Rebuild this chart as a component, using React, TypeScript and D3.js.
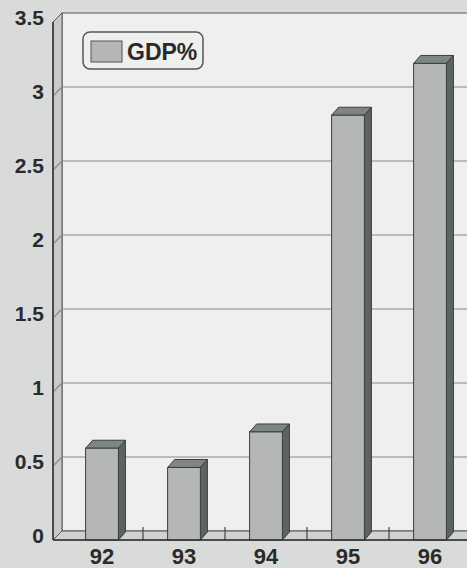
import * as d3 from "d3"

const years = ["92", "93", "94", "95", "96"]
const gdpShare = [0.62, 0.49, 0.73, 2.87, 3.22]
const yTicks = [0, 0.5, 1, 1.5, 2, 2.5, 3, 3.5]
const seriesName = "GDP%"

const W = 467
const H = 568

export default function App() {
  // back plane geometry; front plane is shifted by (-depth, +depth)
  const depth = 9
  const backLeft = 62
  const backRight = 480
  const y = d3.scaleLinear().domain([0, 3.5]).range([531, 13])
  const x = d3.scaleBand<string>().domain(years).range([61, 471])
  const bw = x.bandwidth()
  const barW = bw * 0.4
  const bdx = 7
  const bdy = 8
  const font = "'Liberation Sans', Arial, sans-serif"

  return (
    <svg
      width={W}
      height={H}
      style={{ position: "absolute", left: 0, top: 0 }}
    >
      <rect width={W} height={H} fill="#d9dbda" />

      {/* back wall */}
      <rect
        x={backLeft}
        y={y(3.5)}
        width={backRight - backLeft}
        height={y(0) - y(3.5)}
        fill="#efefed"
        stroke="#555"
        strokeWidth={1}
      />
      {/* side wall */}
      <path
        d={`M${backLeft},${y(3.5)} L${backLeft - depth},${y(3.5) + depth} L${backLeft - depth},${y(0) + depth} L${backLeft},${y(0)} Z`}
        fill="#c9cbca"
        stroke="#555"
        strokeWidth={1}
      />
      {/* floor */}
      <path
        d={`M${backLeft},${y(0)} L${backRight},${y(0)} L${backRight - depth},${y(0) + depth} L${backLeft - depth},${y(0) + depth} Z`}
        fill="#d0d2d1"
        stroke="#555"
        strokeWidth={1}
      />

      {/* gridlines */}
      {yTicks.slice(1, -1).map((t) => (
        <g key={t}>
          <line x1={backLeft} x2={backRight} y1={y(t)} y2={y(t)} stroke="#8a8a8a" strokeWidth={1.2} />
          <line
            x1={backLeft - depth}
            x2={backLeft}
            y1={y(t) + depth}
            y2={y(t)}
            stroke="#8a8a8a"
            strokeWidth={1.2}
          />
        </g>
      ))}

      {/* category ticks on floor */}
      {years.slice(1).map((c) => (
        <line
          key={c}
          x1={x(c)!}
          x2={x(c)!}
          y1={y(0) - 4}
          y2={y(0) + depth}
          stroke="#444"
          strokeWidth={1.2}
        />
      ))}

      {/* bars */}
      {years.map((c, i) => {
        const x0 = x(c)! + bw * 0.3
        const x1 = x0 + barW
        const yt = y(gdpShare[i]) + depth
        const yb = y(0) + depth
        return (
          <g key={c} stroke="#3a3f3e" strokeWidth={1}>
            <path
              d={`M${x0},${yt} L${x0 + bdx},${yt - bdy} L${x1 + bdx},${yt - bdy} L${x1},${yt} Z`}
              fill="#7e8583"
            />
            <path
              d={`M${x1},${yt} L${x1 + bdx},${yt - bdy} L${x1 + bdx},${yb - bdy} L${x1},${yb} Z`}
              fill="#5c6361"
            />
            <rect x={x0} y={yt} width={barW} height={yb - yt} fill="#b4b7b6" />
          </g>
        )
      })}

      {/* front axis lines */}
      <line x1={backLeft - depth} x2={backLeft - depth} y1={y(3.5) + depth} y2={y(0) + depth} stroke="#333" strokeWidth={1.5} />
      <line x1={backLeft - depth} x2={backRight} y1={y(0) + depth} y2={y(0) + depth} stroke="#333" strokeWidth={1.5} />

      {/* y labels */}
      {yTicks.map((t) => (
        <text
          key={t}
          x={44}
          y={y(t) + depth - 3}
          textAnchor="end"
          dominantBaseline="middle"
          fontFamily={font}
          fontWeight="bold"
          fontSize={21}
          fill="#2a2a2a"
        >
          {t}
        </text>
      ))}

      {/* x labels */}
      {years.map((c) => (
        <text
          key={c}
          x={x(c)! + bw / 2}
          y={564}
          textAnchor="middle"
          fontFamily={font}
          fontWeight="bold"
          fontSize={22}
          fill="#2a2a2a"
        >
          {c}
        </text>
      ))}

      {/* legend */}
      <g>
        <rect x={83} y={32} width={120} height={37} rx={7} fill="#efefed" stroke="#555" strokeWidth={1.5} />
        <rect x={91} y={41} width={31} height={21} fill="#b4b7b6" stroke="#555" strokeWidth={1} />
        <text x={127} y={60} fontFamily={font} fontWeight="bold" fontSize={23} fill="#2a2a2a">
          {seriesName}
        </text>
      </g>
    </svg>
  )
}
